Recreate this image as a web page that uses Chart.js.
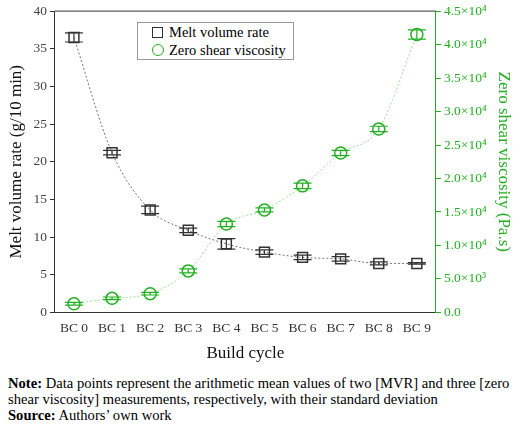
<!DOCTYPE html>
<html><head><meta charset="utf-8">
<script src="https://cdn.jsdelivr.net/npm/chart.js@4.4.1/dist/chart.umd.min.js"></script>
<style>
body{margin:0;background:#fff;font-family:"Liberation Serif","Times New Roman",serif;}
#wrap{position:relative;width:520px;height:370px;}
#legend{position:absolute;left:137px;top:22px;width:157px;height:38px;border:1px solid #999;background:#fff;font-family:"Liberation Serif",serif;font-size:14.5px;line-height:18px;padding-left:4px;box-sizing:border-box;}
#legend div{display:flex;align-items:center;white-space:nowrap;}
.sq{display:inline-block;width:9px;height:9px;border:1.5px solid #333;margin:0 6px 0 10px;}
.ci{display:inline-block;width:10px;height:10px;border:1.5px solid #22b022;border-radius:50%;margin:0 5px 0 10px;}
#note{font-family:"Liberation Serif","Times New Roman",serif;font-size:14.6px;line-height:16px;padding-left:8px;padding-right:6px;margin-top:5px;}
</style></head><body>
<div id="wrap"><canvas id="c" width="520" height="370"></canvas>
<div id="legend"><div><span class="sq"></span>Melt volume rate</div><div><span class="ci"></span>Zero shear viscosity</div></div></div>
<div id="note"><b>Note:</b> Data points represent the arithmetic mean values of two [MVR] and three [zero shear viscosity] measurements, respectively, with their standard deviation<br><b>Source:</b> Authors’ own work</div>
<script>
const cycles = ["BC 0","BC 1","BC 2","BC 3","BC 4","BC 5","BC 6","BC 7","BC 8","BC 9"];
const mvr = [36.5, 21.2, 13.6, 10.9, 9.1, 8.0, 7.3, 7.1, 6.5, 6.5];
const mvrErr = [0.6, 0.3, 0.5, 0.3, 0.7, 0.3, 0.3, 0.3, 0.2, 0.1];
const zsv = [1300, 2100, 2800, 6200, 13200, 15300, 18900, 23800, 27400, 41500];
const zsvErr = [200, 200, 200, 300, 400, 300, 400, 400, 400, 700];
const rightTicks = {0:"0.0",5000:"5.0×10³",10000:"1.0×10⁴",15000:"1.5×10⁴",20000:"2.0×10⁴",25000:"2.5×10⁴",30000:"3.0×10⁴",35000:"3.5×10⁴",40000:"4.0×10⁴",45000:"4.5×10⁴"};
const GREEN = "#22b022";

const errorBars = {
  id: "errorBars",
  afterDatasetsDraw(chart) {
    const ctx = chart.ctx, x = chart.scales.x;
    [[mvr, mvrErr, "y", "#333"], [zsv, zsvErr, "y1", GREEN]].forEach(([v, e, ax, col]) => {
      const s = chart.scales[ax];
      ctx.save(); ctx.strokeStyle = col; ctx.lineWidth = 1.2;
      v.forEach((val, i) => {
        const px = x.getPixelForValue(i);
        const t = s.getPixelForValue(val + e[i]), b = s.getPixelForValue(val - e[i]);
        ctx.beginPath();
        ctx.moveTo(px, t); ctx.lineTo(px, b);
        ctx.moveTo(px - 9, t); ctx.lineTo(px + 9, t);
        ctx.moveTo(px - 9, b); ctx.lineTo(px + 9, b);
        ctx.stroke();
      });
      ctx.restore();
    });
    const a = chart.chartArea;
    ctx.save(); ctx.strokeStyle = "#333"; ctx.lineWidth = 1;
    ctx.beginPath(); ctx.moveTo(a.left, a.top); ctx.lineTo(a.right, a.top); ctx.stroke();
    ctx.restore();
  }
};

const font = {family: "Liberation Serif", size: 13.5};
const titleFont = {family: "Liberation Serif", size: 17};
new Chart(document.getElementById("c"), {
  type: "line",
  data: { labels: cycles, datasets: [
    { label: "Melt volume rate", data: mvr, yAxisID: "y", borderColor: "#777", borderWidth: 1,
      borderDash: [2, 2], pointStyle: "rect", pointRadius: 7, pointBorderColor: "#333",
      pointBackgroundColor: "rgba(0,0,0,0)", pointBorderWidth: 1.5, cubicInterpolationMode: "monotone" },
    { label: "Zero shear viscosity", data: zsv, yAxisID: "y1", borderColor: "#9ee09e", borderWidth: 1,
      borderDash: [2, 2], pointStyle: "circle", pointRadius: 6, pointBorderColor: GREEN,
      pointBackgroundColor: "rgba(0,0,0,0)", pointBorderWidth: 1.5, cubicInterpolationMode: "monotone" }
  ]},
  options: {
    responsive: false, animation: false,
    layout: { padding: { top: 6, right: 2, left: 2, bottom: 2 } },
    plugins: { legend: { display: false }, tooltip: { enabled: false } },
    scales: {
      x: { offset: true, grid: { display: false, drawTicks: true, tickLength: 5 },
        border: { color: "#333" }, ticks: { color: "#333", font: font, maxRotation: 0 },
        title: { display: true, text: "Build cycle", color: "#111", font: titleFont } },
      y: { min: 0, max: 40, position: "left", grid: { drawOnChartArea: false, tickLength: 5, color: "#333" },
        border: { color: "#333" }, ticks: { stepSize: 5, color: "#444", font: font },
        title: { display: true, text: "Melt volume rate (g/10 min)", color: "#111", font: titleFont } },
      y1: { min: 0, max: 45000, position: "right", grid: { drawOnChartArea: false, tickLength: 5, color: GREEN },
        border: { color: GREEN }, ticks: { stepSize: 5000, color: GREEN, font: font, callback: v => rightTicks[v] },
        title: { display: true, text: "Zero shear viscosity (Pa.s)", color: GREEN, font: titleFont } }
    }
  },
  plugins: [errorBars]
});
</script></body></html>
